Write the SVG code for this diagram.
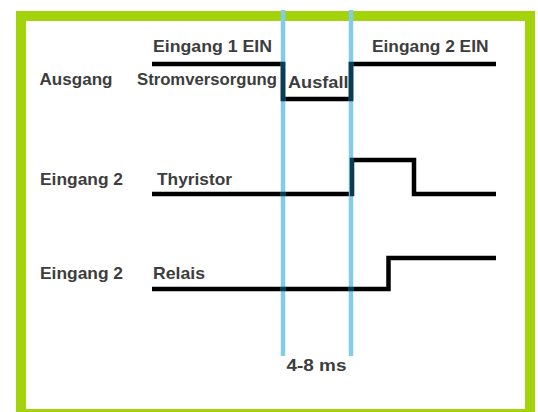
<svg xmlns="http://www.w3.org/2000/svg" width="538" height="412" viewBox="0 0 538 412">
  <style>
    .t { font-family: "Liberation Sans", Arial, sans-serif; font-weight: bold; font-size: 17px; fill: #3d3d3d; }
    .s { font-size: 16px; }
    .sig { fill: none; stroke: #000; stroke-width: 4.5; stroke-linejoin: miter; stroke-linecap: butt; }
    .mark { stroke: #84cbea; stroke-width: 4.5; }
    .ov { fill: #0b3c55; }
  </style>
  <rect x="0" y="0" width="538" height="412" fill="#fff"/>
  <g id="frame">
    <rect x="21" y="16" width="509" height="398" fill="#fff" stroke="#a2d30b" stroke-width="10"/>
  </g>
  <g id="row-ausgang">
    <text class="t" x="39.5" y="85" textLength="73" lengthAdjust="spacingAndGlyphs">Ausgang</text>
    <text class="t" x="153" y="51.5" textLength="119" lengthAdjust="spacingAndGlyphs">Eingang 1 EIN</text>
    <text class="t" x="372" y="51.5" textLength="116.5" lengthAdjust="spacingAndGlyphs">Eingang 2 EIN</text>
    <text class="t s" x="137" y="85" textLength="140" lengthAdjust="spacingAndGlyphs">Stromversorgung</text>
    <text class="t" x="288" y="87.5" textLength="60.5" lengthAdjust="spacingAndGlyphs">Ausfall</text>
    <path class="sig" d="M152,64 H283 V99 H351 V64 H496"/>
  </g>
  <g id="row-thyristor">
    <text class="t" x="40" y="185" textLength="83" lengthAdjust="spacingAndGlyphs">Eingang 2</text>
    <text class="t" x="157" y="185" textLength="75" lengthAdjust="spacingAndGlyphs">Thyristor</text>
    <path class="sig" d="M152,194 H352 V160 H414 V194 H496"/>
  </g>
  <g id="row-relais">
    <text class="t" x="40" y="279" textLength="83" lengthAdjust="spacingAndGlyphs">Eingang 2</text>
    <text class="t" x="153" y="279" textLength="52" lengthAdjust="spacingAndGlyphs">Relais</text>
    <path class="sig" d="M152,289 H388.5 V258 H496"/>
  </g>
  <g id="connectors">
    <line class="mark" x1="283" y1="10" x2="283" y2="356"/>
    <line class="mark" x1="351" y1="10" x2="351" y2="356"/>
    <rect class="ov" x="280.75" y="61.75" width="4.5" height="39.5"/>
    <rect class="ov" x="348.75" y="61.75" width="4.5" height="39.5"/>
    <rect class="ov" x="280.75" y="191.75" width="4.5" height="4.5"/>
    <rect class="ov" x="349.75" y="157.75" width="3.5" height="38.5"/>
    <rect class="ov" x="280.75" y="286.75" width="4.5" height="4.5"/>
    <rect class="ov" x="348.75" y="286.75" width="4.5" height="4.5"/>
  </g>
  <g id="timing-label">
    <text class="t" x="286.5" y="371" textLength="60" lengthAdjust="spacingAndGlyphs">4-8 ms</text>
  </g>
</svg>
